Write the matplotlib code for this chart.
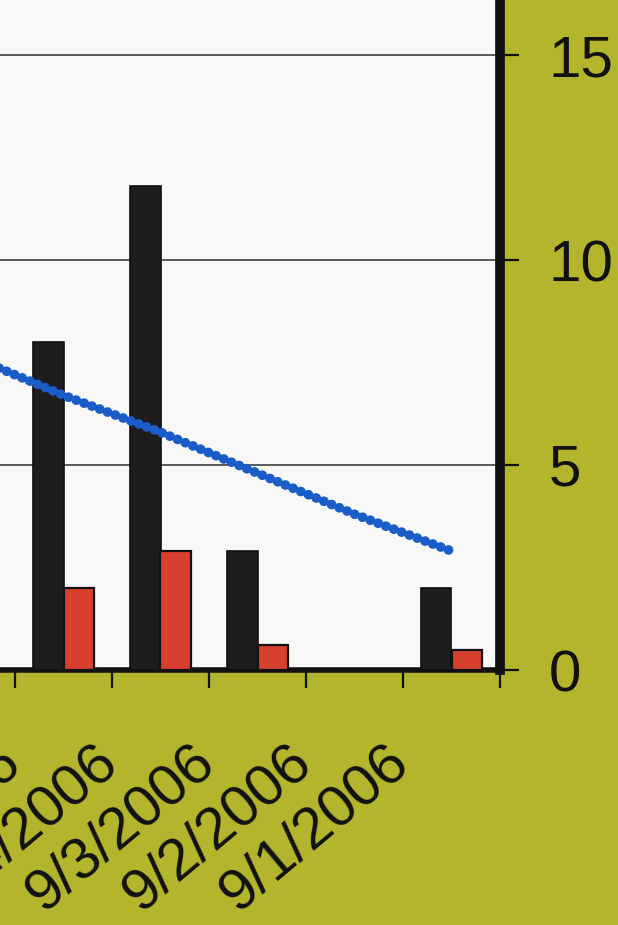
import matplotlib
matplotlib.use('Agg')
import matplotlib.pyplot as plt
from matplotlib.transforms import ScaledTranslation

# data, left to right as printed (newest first)
dates = ['9/6/2006', '9/5/2006', '9/4/2006', '9/3/2006', '9/2/2006', '9/1/2006']
black_vals = [11.0, 8.0, 11.8, 2.9, 0, 2.0]
red_vals = [2.4, 2.0, 2.9, 0.6, 0, 0.5]
trend_vals = [7.7, 6.7, 5.8, 4.8, 3.8, 2.9]
y_ticks = [0, 5, 10, 15]

olive = '#b3b62c'
plt.rcParams['font.family'] = ['Liberation Sans', 'DejaVu Sans']

fig = plt.figure(figsize=(6.18, 9.25), dpi=100)
fig.patch.set_facecolor(olive)

# plot area runs off the left and top edge of the picture
ax = fig.add_axes([-82 / 618, 255 / 925, 582 / 618, 697 / 925])
ax.set_facecolor('#f8f8f6')
ax.set_zorder(1)

x = list(range(len(dates)))
w = 0.31
ax.bar([i - w / 2 for i in x], black_vals, width=w, color='#1e1c1c',
       edgecolor='#111111', linewidth=1.2, zorder=3)
ax.bar([i + w / 2 for i in x], red_vals, width=w, color='#d8402e',
       edgecolor='#111111', linewidth=1.6, zorder=3)
# beaded dashed trend line
ax.plot(x, trend_vals, color='#1a5cc8', lw=7, linestyle=(0, (0.01, 0.85)),
        dash_capstyle='round', zorder=4)

ax.set_xlim(-0.5, 5.5)
ax.set_ylim(0, 17)

# right value axis
ax.yaxis.tick_right()
ax.set_yticks(y_ticks)
ax.set_yticklabels([str(v) for v in y_ticks])
ax.tick_params(axis='y', direction='out', length=14, width=1.6, pad=21,
               labelsize=42, colors='#111111')
ax.yaxis.grid(True, color='#5a5a5a', lw=1.4, zorder=0)
ax.set_axisbelow(True)

# category ticks between the groups, date labels written at an angle
ax.set_xticks([i - 0.5 for i in x] + [5.5], minor=True)
ax.set_xticks([])
ax.tick_params(axis='x', which='minor', direction='out', length=13, width=1.6,
               colors='#111111')
offset = ScaledTranslation(-0.50, -0.85, fig.dpi_scale_trans)
for i, lab in enumerate(dates):
    ax.text(i, 0, lab, transform=ax.get_xaxis_transform() + offset,
            rotation=40, rotation_mode='anchor', ha='right', va='center',
            fontsize=42, color='#111111', clip_on=False)

for edge in ['top', 'left']:
    ax.spines[edge].set_visible(False)
ax.spines['right'].set_linewidth(7)
ax.spines['right'].set_color('#111111')
ax.spines['bottom'].set_linewidth(4)
ax.spines['bottom'].set_color('#111111')

fig.savefig('out.png', dpi=100, facecolor=olive)
